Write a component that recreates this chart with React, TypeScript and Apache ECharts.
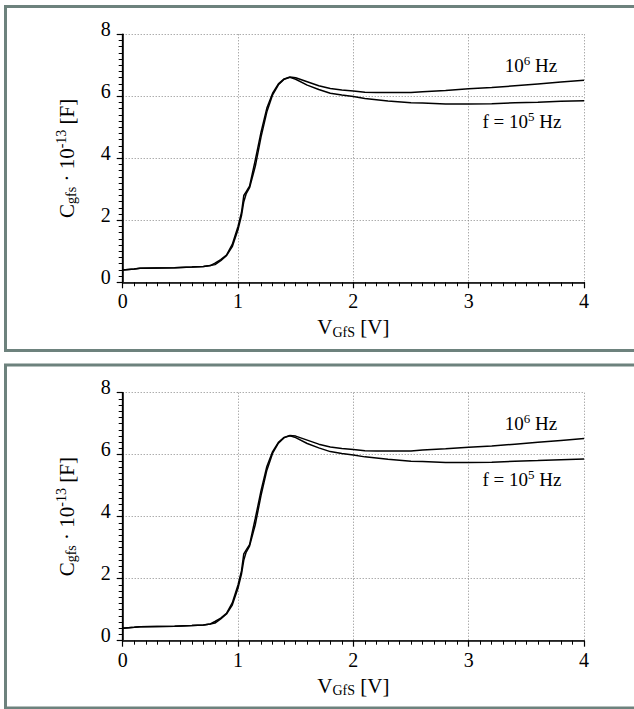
import React, { useEffect, useRef } from 'react';
import * as echarts from 'echarts';

// ---- data ----
// f = 10^6 Hz curve
const V_HI = [0, 0.1, 0.15, 0.3, 0.45, 0.6, 0.7, 0.76, 0.8, 0.85, 0.9, 0.95, 1.0, 1.03, 1.05, 1.07, 1.1, 1.15, 1.2, 1.25, 1.3, 1.35, 1.4, 1.45, 1.5, 1.6, 1.7, 1.8, 1.9, 2.0, 2.1, 2.2, 2.3, 2.5, 2.6, 2.8, 3.0, 3.2, 3.4, 3.6, 3.8, 4.0];
const C_HI = [0.40, 0.43, 0.45, 0.46, 0.47, 0.49, 0.51, 0.54, 0.62, 0.73, 0.88, 1.22, 1.80, 2.25, 2.80, 2.92, 3.10, 3.95, 4.85, 5.62, 6.10, 6.40, 6.56, 6.62, 6.60, 6.47, 6.34, 6.25, 6.20, 6.17, 6.13, 6.12, 6.12, 6.12, 6.15, 6.19, 6.24, 6.28, 6.34, 6.40, 6.46, 6.52];
// f = 10^5 Hz curve
const V_LO = [0, 0.1, 0.15, 0.3, 0.45, 0.6, 0.7, 0.76, 0.8, 0.85, 0.9, 0.95, 1.0, 1.03, 1.05, 1.07, 1.1, 1.15, 1.2, 1.25, 1.3, 1.35, 1.4, 1.45, 1.5, 1.6, 1.7, 1.8, 1.9, 2.0, 2.1, 2.2, 2.3, 2.5, 2.6, 2.8, 3.0, 3.2, 3.4, 3.6, 3.8, 4.0];
const C_LO = [0.40, 0.43, 0.45, 0.46, 0.47, 0.49, 0.51, 0.54, 0.57, 0.70, 0.86, 1.15, 1.70, 2.15, 2.60, 2.85, 3.05, 3.75, 4.70, 5.50, 6.05, 6.37, 6.55, 6.61, 6.55, 6.36, 6.22, 6.10, 6.04, 5.99, 5.93, 5.89, 5.85, 5.79, 5.78, 5.75, 5.75, 5.76, 5.79, 5.81, 5.84, 5.86];

const X_RANGE = [0, 4];
const X_STEP = 1;
const X_MINOR_STEP = 0.1;
const Y_RANGE = [0, 8];
const Y_STEP = 2;
const Y_MINOR_STEP = 0.2;

const LABEL_HI = '{n|10}{sup|6}{n| Hz}';
const LABEL_LO = '{n|f = 10}{sup|5}{n| Hz}';
const X_NAME = '{n|V}{sub|GfS}{n| [V]}';
const Y_NAME = '{n|C}{sub|gfs}{n| · 10}{sup|-13}{n| [F]}';

const FONT = 'Liberation Serif';
const BORDER = '#6d827d';

function pairs(xs: number[], ys: number[]) {
  return xs.map((x, i) => [x, ys[i]]);
}

export default function App() {
  const ref = useRef<HTMLDivElement>(null);

  useEffect(() => {
    if (!ref.current) return;
    const chart = echarts.init(ref.current, null, { renderer: 'svg' });
    const OFFSET = 358.4;
    const panels = [0, OFFSET];

    const nameRich = {
      n: { fontFamily: FONT, fontSize: 21, color: '#000', lineHeight: 24 },
      sub: { fontFamily: FONT, fontSize: 14, color: '#000', lineHeight: 14, verticalAlign: 'bottom' },
      sup: { fontFamily: FONT, fontSize: 14, color: '#000', lineHeight: 14, verticalAlign: 'top' },
    };

    const grids = panels.map((dy) => ({ left: 122.7, top: 34.3 + dy, width: 461.3, height: 248 }));

    const xAxes: any[] = [];
    const yAxes: any[] = [];
    panels.forEach((_, i) => {
      // main x axis
      xAxes.push({
        type: 'value', gridIndex: i, position: 'bottom',
        min: X_RANGE[0], max: X_RANGE[1], interval: X_STEP,
        axisLine: { show: true, lineStyle: { color: '#000', width: 1.5 } },
        axisTick: { show: true, length: 6, lineStyle: { color: '#000', width: 1.2 } },
        splitLine: { show: true, lineStyle: { type: [1, 2], color: '#888', width: 1 } },
        axisLabel: { show: true, color: '#000', fontFamily: FONT, fontSize: 20, margin: 9 },
        name: X_NAME, nameLocation: 'middle', nameGap: 33,
        nameTextStyle: { fontFamily: FONT, fontSize: 21, color: '#000', rich: nameRich },
      });
      // minor ticks x
      xAxes.push({
        type: 'value', gridIndex: i, position: 'bottom',
        min: X_RANGE[0], max: X_RANGE[1], interval: X_MINOR_STEP,
        axisLine: { show: false },
        axisTick: { show: true, length: 4, lineStyle: { color: '#000', width: 1 } },
        splitLine: { show: false }, axisLabel: { show: false },
      });
      // top frame
      xAxes.push({
        type: 'value', gridIndex: i, position: 'top',
        min: X_RANGE[0], max: X_RANGE[1], interval: X_STEP,
        axisLine: { show: true, lineStyle: { color: '#222', width: 1 } },
        axisTick: { show: false }, splitLine: { show: false }, axisLabel: { show: false },
      });
      // main y axis
      yAxes.push({
        type: 'value', gridIndex: i, position: 'left',
        min: Y_RANGE[0], max: Y_RANGE[1], interval: Y_STEP,
        axisLine: { show: true, lineStyle: { color: '#000', width: 1.5 } },
        axisTick: { show: true, length: 6, lineStyle: { color: '#000', width: 1.2 } },
        splitLine: { show: true, lineStyle: { type: [1, 2], color: '#888', width: 1 } },
        axisLabel: { show: true, color: '#000', fontFamily: FONT, fontSize: 20, margin: 12, verticalAlign: 'bottom', lineHeight: 11 },
        name: Y_NAME, nameLocation: 'middle', nameRotate: 90, nameGap: 44,
        nameTextStyle: { fontFamily: FONT, fontSize: 21, color: '#000', rich: nameRich },
      });
      // minor ticks y
      yAxes.push({
        type: 'value', gridIndex: i, position: 'left',
        min: Y_RANGE[0], max: Y_RANGE[1], interval: Y_MINOR_STEP,
        axisLine: { show: false },
        axisTick: { show: true, length: 4, lineStyle: { color: '#000', width: 1 } },
        splitLine: { show: false }, axisLabel: { show: false },
      });
      // right frame
      yAxes.push({
        type: 'value', gridIndex: i, position: 'right',
        min: Y_RANGE[0], max: Y_RANGE[1], interval: Y_STEP,
        axisLine: { show: true, lineStyle: { color: '#000', width: 1.3 } },
        axisTick: { show: false }, splitLine: { show: false }, axisLabel: { show: false },
      });
    });

    const series: any[] = [];
    panels.forEach((_, i) => {
      series.push({
        type: 'line', xAxisIndex: i * 3, yAxisIndex: i * 3, data: pairs(V_HI, C_HI),
        symbol: 'none', lineStyle: { color: '#000', width: 1.5 },
      });
      series.push({
        type: 'line', xAxisIndex: i * 3, yAxisIndex: i * 3, data: pairs(V_LO, C_LO),
        symbol: 'none', lineStyle: { color: '#000', width: 1.5 },
      });
    });

    const textRich = {
      n: { fontFamily: FONT, fontSize: 19, fill: '#000', lineHeight: 22 },
      sup: { fontFamily: FONT, fontSize: 13, fill: '#000', lineHeight: 12, verticalAlign: 'top' },
    };

    const graphic: any[] = [];
    panels.forEach((dy) => {
      graphic.push({
        type: 'rect', silent: true,
        shape: { x: 5.5, y: 6.5 + dy, width: 700, height: 344 - (dy > 0 ? 1 : 0) },
        style: { fill: 'transparent', stroke: BORDER, lineWidth: 3 },
      });
      graphic.push({
        type: 'text', silent: true, x: 531, y: 65 + dy,
        style: { text: LABEL_HI, rich: textRich, fontFamily: FONT, fontSize: 19, fill: '#000', align: 'center', verticalAlign: 'middle' },
      });
      graphic.push({
        type: 'text', silent: true, x: 522, y: 121 + dy,
        style: { text: LABEL_LO, rich: textRich, fontFamily: FONT, fontSize: 19, fill: '#000', align: 'center', verticalAlign: 'middle' },
      });
    });

    chart.setOption({
      animation: false,
      backgroundColor: '#fff',
      grid: grids,
      xAxis: xAxes,
      yAxis: yAxes,
      series,
      graphic,
    });

    return () => chart.dispose();
  }, []);

  return <div ref={ref} style={{ position: 'fixed', left: 0, top: 0, width: 634, height: 709 }} />;
}
